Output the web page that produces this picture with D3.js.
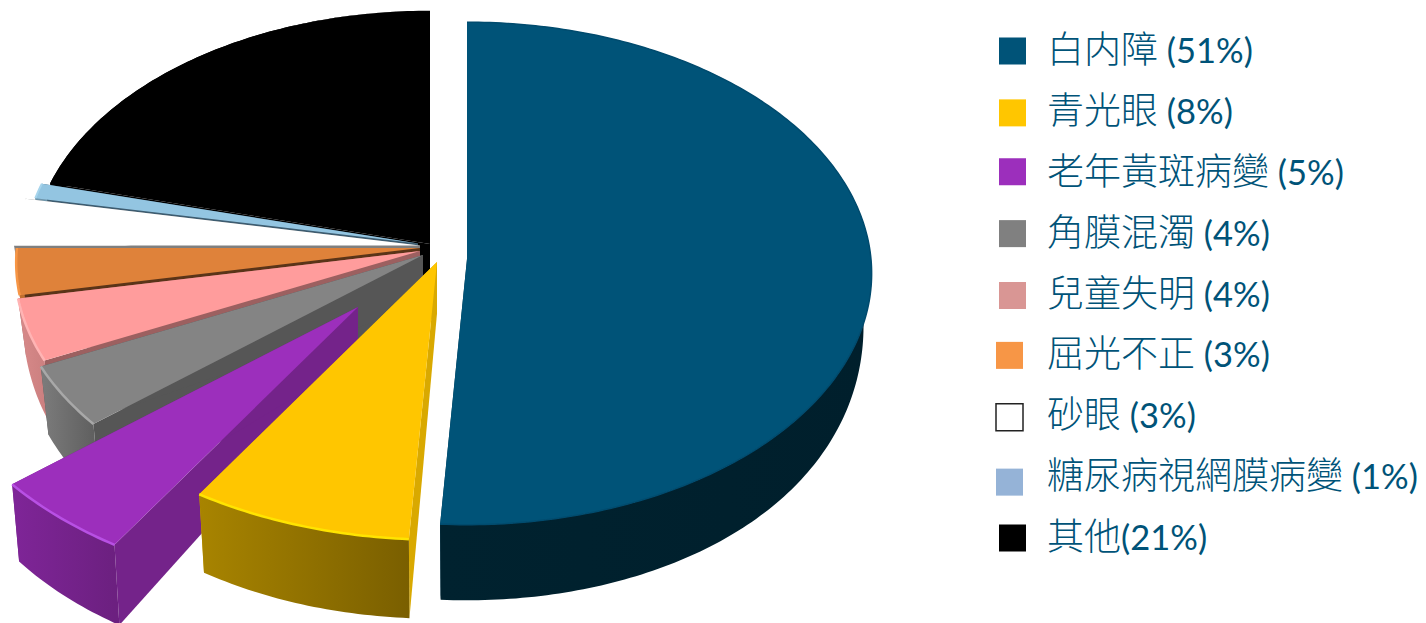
<!DOCTYPE html>
<html>
<head>
<meta charset="utf-8">
<script src="https://cdn.jsdelivr.net/npm/d3@7"></script>
<style>
  html, body { margin: 0; padding: 0; background: #fff; overflow: hidden; }
  svg { display: block; }
</style>
</head>
<body>
<svg id="chart" width="1426" height="623"></svg>
<script>
  /* ---------- DATA ---------- */

  const categories = [
    "白内障 (51%)", "青光眼 (8%)", "老年黃斑病變 (5%)", "角膜混濁 (4%)", "兒童失明 (4%)",
    "屈光不正 (3%)", "砂眼 (3%)", "糖尿病視網膜病變 (1%)", "其他(21%)"
  ];
  const values = [51, 8, 5, 4, 4, 3, 3, 1, 21];

  /* ---------- STYLE ---------- */

  const legendColors = ["#005378", "#FFC600", "#9C2FBC", "#808080", "#D99694", "#F79646", "#FFFFFF", "#95B3D7", "#000000"];
  const topColors    = ["#005378", "#FFC600", "#9C2FBC", "#848484", "#FF9C9C", "#DF823A", "#FFFFFF", "#93C5E1", "#000000"];
  const sideColors   = ["#00354C", "#D9A900", "#74238A", "#565656", "#9C6060", "#5A3418", "#7F7F7F", "#3D5C70", "#000000"];
  const wallFrom     = ["#00222F", "#A88400", "#7F2598", "#7C7C7C", "#D88A8A", "#C06F30", "#FFFFFF", "#6E95AA", "#000000"];
  const wallTo       = ["#001F2C", "#7A5F00", "#6C2080", "#606060", "#CC8080", "#C06F30", "#FFFFFF", "#6E95AA", "#000000"];
  const rimColors    = ["#004B6E", "#FFE400", "#B850E4", "#A8A8A8", "#FFB4B4", "#F79646", "#FFFFFF", "#A6D4EC", "#000000"];
  const rimWidths    = [1.5, 2.5, 2.5, 2.5, 2.5, 2.5, 0, 2, 0];

  // where each exploded slice ended up: apex px and its size factor
  const apexX =  [467, 437, 358, 423, 420, 420, 420,   418, 430];
  const apexY =  [259, 262, 307, 255, 251, 248, 245.5, 243.5, 244];
  const sizes =  [0.995, 1.04, 1.065, 1.015, 0.997, 0.993, 1, 0.97, 0.98];
  const drawOrder = [8, 7, 6, 5, 4, 3, 0, 2, 1];
  const WHITE_SLICE = 6;

  const radiusX = 406;
  const radiusY = 251.7;
  const perspective = 0.0574;
  const bottomShrink = 0.98;

  const svg = d3.select("#chart");
  const defs = svg.append("defs");
  const g = svg.append("g");

  /* ---------- PROJECTION ---------- */

  // depth of the wall gets bigger towards the viewer, fades out fast at the back
  function wallDepth(depthY) {
    if (depthY < 0) return Math.max(0, 49 * (1 + 2 * depthY));
    return 76 * (1 - 0.35 * (1 - depthY) ** 2);
  }

  function project(i, angle, floor) {
    const X = Math.sin(angle);
    const Y = -Math.cos(angle);
    const s = sizes[i] / (1 - perspective * Y);
    const dx = X * s * radiusX;
    const dy = Y * s * radiusY;
    if (!floor) return [apexX[i] + dx, apexY[i] + dy];
    return [apexX[i] + dx * bottomShrink, apexY[i] + dy + wallDepth(Y) * sizes[i]];
  }

  function arcAngles(d) {
    const n = Math.max(4, Math.ceil((d.endAngle - d.startAngle) / 0.015));
    return d3.range(n + 1).map(k => d.startAngle + (d.endAngle - d.startAngle) * k / n);
  }

  const line = d3.line();

  /* ---------- DRAW PIE ---------- */

  const slices = d3.pie().sort(null).value(d => d)(values);

  drawOrder.forEach(i => {
    const d = slices[i];
    const angles = arcAngles(d);
    const apex = [apexX[i], apexY[i]];
    const apexFloor = [apexX[i], apexY[i] + wallDepth(0) * sizes[i]];
    const slice = g.append("g");

    // radial walls
    [d.startAngle, d.endAngle].forEach(a => {
      slice.append("path")
        .attr("d", line([apex, project(i, a, false), project(i, a, true), apexFloor]) + "Z")
        .attr("fill", sideColors[i]);
    });

    // outer wall (the white slice has none, it would hide the grey edge next to it)
    if (i !== WHITE_SLICE) {
      const xs = angles.map(a => project(i, a, false)[0]);
      const grad = defs.append("linearGradient")
        .attr("id", `wall${i}`)
        .attr("gradientUnits", "userSpaceOnUse")
        .attr("x1", d3.min(xs)).attr("x2", d3.max(xs))
        .attr("y1", 0).attr("y2", 0);
      grad.append("stop").attr("offset", 0).attr("stop-color", wallFrom[i]);
      grad.append("stop").attr("offset", 1).attr("stop-color", wallTo[i]);

      slice.append("path")
        .attr("d", line(
          angles.map(a => project(i, a, false))
            .concat(angles.slice().reverse().map(a => project(i, a, true)))
        ) + "Z")
        .attr("fill", `url(#wall${i})`);
    }

    // top face
    const rim = angles.map(a => project(i, a, false));
    slice.append("path")
      .attr("d", line([apex].concat(rim)) + "Z")
      .attr("fill", topColors[i]);

    // lit edge of the top face
    slice.append("path")
      .attr("d", line(rim))
      .attr("fill", "none")
      .attr("stroke", rimColors[i])
      .attr("stroke-width", rimWidths[i]);
  });

  /* ---------- LEGEND ---------- */

  const row = d3.scaleLinear().domain([0, 8]).range([51, 538]);
  const swatchNudgeX = [0, 0, 0, 0, 0, -3, -3, -3, 0];
  const swatchNudgeY = [0, 1, -1, 0, 1, 0, 1, 5, 0];

  const legend = svg.append("g").selectAll("g")
    .data(categories)
    .join("g")
    .attr("transform", (d, i) => `translate(0,${row(i)})`);

  legend.append("rect")
    .attr("x", (d, i) => 999 + swatchNudgeX[i])
    .attr("y", (d, i) => -13.5 + swatchNudgeY[i])
    .attr("width", 27)
    .attr("height", 27)
    .attr("fill", (d, i) => legendColors[i])
    .attr("stroke", (d, i) => (i === 6 ? "#222" : "none"))
    .attr("stroke-width", 1.5);

  legend.append("text")
    .attr("x", 1047)
    .attr("y", 12)
    .attr("fill", "#005378")
    .each(function (d) {
      const text = d3.select(this);
      d.match(/[^\x00-\x7F]+|[\x00-\x7F]+/g).forEach(part => {
        const cjk = /[^\x00-\x7F]/.test(part);
        text.append("tspan")
          .attr("font-family", cjk ? "'Noto Sans CJK TC'" : "Lato, 'Open Sans', sans-serif")
          .attr("font-size", cjk ? 37 : 34.5)
          .attr("font-weight", cjk ? 300 : 400)
          .attr("xml:space", "preserve")
          .style("white-space", "pre")
          .text(part);
      });
    });
</script>
</body>
</html>
